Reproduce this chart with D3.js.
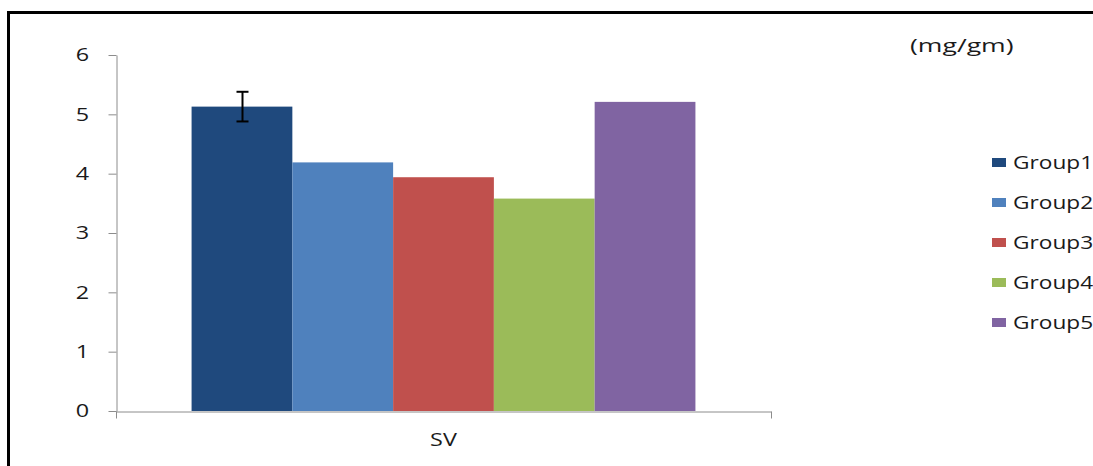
<!DOCTYPE html>
<html lang="en">
<head>
  <meta charset="UTF-8">
  <title>SV by group</title>
  <style>
  body { margin: 0; background: #fff; }
  svg { display: block; font-family: "Open Sans", sans-serif; }
  </style>
</head>
<body>
  <svg></svg>
  <script src="https://d3js.org/d3.v7.min.js"></script>
  <script>
  // data
  var categories = ["SV"];
  var groups = ["Group1", "Group2", "Group3", "Group4", "Group5"];
  var values = [5.13, 4.19, 3.94, 3.58, 5.21];
  var errors = [0.25, null, null, null, null];
  var yTicks = [0, 1, 2, 3, 4, 5, 6];
  var colors = ["#1F497D", "#4F81BD", "#C0504D", "#9BBB59", "#8064A2"];
  var unitLabel = "(mg/gm)";

  var width = 1093;
  var height = 466;
  var plot = { left: 116, right: 771, top: 55, bottom: 411 };
  var stretch = 1.3; // the source picture is widened, text too

  var svg = d3.select("svg")
      .attr("width", width)
      .attr("height", height);

  // outer frame (runs off the right and bottom of the picture)
  svg.append("rect")
      .attr("x", 8.5).attr("y", 12.5)
      .attr("width", 1100).attr("height", 470)
      .attr("fill", "none")
      .attr("stroke", "#000")
      .attr("stroke-width", 3);

  var xScale = d3.scaleBand()
      .domain(categories)
      .range([plot.left, plot.right]);

  // 150% gap width: 5 bars + 1.5 bar widths of gap
  var barW = xScale.bandwidth() / (groups.length + 1.5);
  var xInner = d3.scaleBand()
      .domain(groups)
      .range([barW * 0.75, barW * 0.75 + barW * groups.length]);

  var yScale = d3.scaleLinear()
      .domain([0, 6])
      .range([plot.bottom, plot.top]);

  // bars
  svg.append("g").selectAll("rect")
      .data(groups)
      .enter()
      .append("rect")
        .attr("x", (d) => xScale("SV") + xInner(d))
        .attr("width", xInner.bandwidth())
        .attr("y", (d, i) => yScale(values[i]))
        .attr("height", (d, i) => yScale(0) - yScale(values[i]))
        .attr("fill", (d, i) => colors[i]);

  // error bars
  var eb = svg.append("g").attr("stroke", "#000").attr("stroke-width", 2);
  groups.forEach(function(g, i) {
    if (errors[i] == null) return;
    var cx = Math.round(xScale("SV") + xInner(g) + xInner.bandwidth() / 2) + 0.5;
    var y1 = yScale(values[i] + errors[i]);
    var y2 = yScale(values[i] - errors[i]);
    eb.append("line").attr("x1", cx).attr("x2", cx).attr("y1", y1).attr("y2", y2);
    eb.append("line").attr("x1", cx - 6).attr("x2", cx + 6).attr("y1", y1).attr("y2", y1);
    eb.append("line").attr("x1", cx - 6).attr("x2", cx + 6).attr("y1", y2).attr("y2", y2);
  });

  // y axis
  var yAxis = svg.append("g")
      .attr("transform", "translate(" + (plot.left + 0.5) + ",0)")
      .call(d3.axisLeft(yScale).tickValues(yTicks).tickFormat(d3.format("d"))
        .tickSize(8).tickPadding(13).tickSizeOuter(0));
  yAxis.select(".domain").attr("stroke", "#8c8c8c");
  yAxis.selectAll(".tick line").attr("stroke", "#8c8c8c");
  yAxis.selectAll(".tick text")
      .attr("font-size", 18)
      .attr("font-family", "Open Sans, sans-serif")
      .attr("fill", "#1a1a1a")
      .attr("transform", "scale(" + stretch + ",1)");

  // x axis
  var xAxis = svg.append("g")
      .attr("transform", "translate(0," + (plot.bottom + 0.5) + ")")
      .call(d3.axisBottom(xScale).tickSize(0).tickPadding(22).tickSizeOuter(0));
  xAxis.select(".domain").attr("stroke", "#8c8c8c");
  xAxis.selectAll(".tick text")
      .attr("font-size", 18)
      .attr("font-family", "Open Sans, sans-serif")
      .attr("fill", "#1a1a1a")
      .attr("transform", "scale(" + stretch + ",1)");
  // category boundary ticks
  xAxis.selectAll(".edge")
      .data(xScale.range())
      .enter()
      .append("line")
        .attr("x1", (d) => d + 0.5).attr("x2", (d) => d + 0.5)
        .attr("y1", 0).attr("y2", 7)
        .attr("stroke", "#8c8c8c");

  // unit label
  svg.append("text")
      .attr("transform", "translate(910,52) scale(1.4,1)")
      .attr("font-size", 19)
      .attr("fill", "#1a1a1a")
      .text(unitLabel);

  // legend
  var legend = svg.append("g").selectAll("g")
      .data(groups)
      .enter()
      .append("g")
        .attr("transform", (d, i) => "translate(992," + (162.5 + i * 40) + ")");
  legend.append("rect")
      .attr("x", 0).attr("y", -4.5)
      .attr("width", 14).attr("height", 9)
      .attr("fill", (d, i) => colors[i]);
  legend.append("text")
      .attr("transform", "translate(21,6) scale(1.26,1)")
      .attr("font-size", 18)
      .attr("fill", "#1a1a1a")
      .text((d) => d);
  </script>
</body>
</html>
